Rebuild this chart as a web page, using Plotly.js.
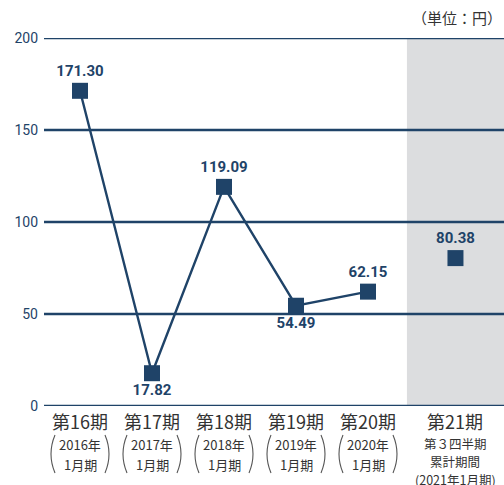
<!DOCTYPE html>
<html><head><meta charset="utf-8">
<script src="https://cdn.plot.ly/plotly-3.0.1.min.js"></script>
<style>body{margin:0;background:#fff}#c{width:504px;height:485px}</style>
</head><body><div id="c"></div>
<script>
const periods = ["第16期","第17期","第18期","第19期","第20期"];
const subYears = ["2016年","2017年","2018年","2019年","2020年"];
const subMonths = ["1月期","1月期","1月期","1月期","1月期"];
const values = [171.30, 17.82, 119.09, 54.49, 62.15];
const labelPos = ["top center","bottom center","top center","bottom center","top center"];
const lastPeriod = ["第21期"];
const lastSubLines = ["第３四半期","累計期間","(2021年1月期)"];
const lastValue = [80.38];
const yTicks = [0, 50, 100, 150, 200];
const unitText = "（単位：円）";

const navy = "#1f4368";
const condensed = "Roboto, sans-serif";
const numFont = {family: condensed, size: 15, color: navy, weight: "bold"};
const jpFont = "Noto Sans CJK JP, sans-serif";

const traces = [
  {x: periods, y: values, xaxis: "x", yaxis: "y", type: "scatter", mode: "lines+markers+text",
   line: {color: navy, width: 2.4}, marker: {symbol: "square", size: 16, color: navy},
   text: values.map(v => v.toFixed(2)), textposition: labelPos, textfont: numFont,
   cliponaxis: false, hoverinfo: "skip"},
  {x: lastPeriod, y: lastValue, xaxis: "x2", yaxis: "y", type: "scatter", mode: "markers+text",
   marker: {symbol: "square", size: 16, color: navy},
   text: lastValue.map(v => v.toFixed(2)), textposition: "top center", textfont: numFont,
   cliponaxis: false, hoverinfo: "skip"}
];

const shapes = [{type: "rect", xref: "x2 domain", yref: "paper", x0: 0, x1: 1, y0: 0, y1: 1,
  fillcolor: "#dcdddf", line: {width: 0}, layer: "below"}];
yTicks.forEach(t => shapes.push({type: "line", xref: "paper", yref: "y", x0: 0, x1: 1, y0: t, y1: t,
  line: {color: navy, width: 2.5}, layer: "below"}));
periods.forEach((p, i) => {
  ["M -25,-29 Q -33,-48 -25,-67", "M 25,-29 Q 33,-48 25,-67"].forEach(path => shapes.push({
    type: "path", xref: "x", yref: "paper", xsizemode: "pixel", ysizemode: "pixel",
    xanchor: i, yanchor: 0, path: path, line: {color: "#555", width: 1.1}, layer: "above"}));
});

const annotations = [];
function lab(xref, x, txt, shift, size) {
  annotations.push({xref: xref, yref: "paper", x: x, y: 0, yanchor: "top", yshift: shift, showarrow: false,
    borderpad: 0, text: txt, font: {family: jpFont, size: size, color: "#333"}});
}
periods.forEach((p, i) => {
  lab("x", p, p, -1, 18);
  lab("x", p, subYears[i], -28, 13);
  lab("x", p, subMonths[i], -48, 13);
});
lab("x2", lastPeriod[0], lastPeriod[0], -1, 18);
lastSubLines.forEach((t, k) => lab("x2", lastPeriod[0], t, -27 - 18 * k, 12.5));
annotations.push({xref: "paper", yref: "paper", x: 1, y: 1, xanchor: "right", yanchor: "bottom", yshift: 8, showarrow: false,
  text: unitText, font: {family: jpFont, size: 15, color: "#333"}});

const layout = {
  width: 504, height: 485, margin: {l: 44, r: 0, t: 38, b: 79},
  paper_bgcolor: "#fff", plot_bgcolor: "rgba(0,0,0,0)", showlegend: false,
  xaxis: {domain: [0, 0.7826], range: [-0.5, 4.5], autorange: false, showgrid: false, zeroline: false, showticklabels: false, ticks: "", showline: false},
  xaxis2: {domain: [0.789, 1], range: [-0.5, 0.5], autorange: false, showgrid: false, zeroline: false, showticklabels: false, ticks: "", showline: false, anchor: "y"},
  yaxis: {range: [0, 200], tickvals: yTicks, showgrid: false, zeroline: false, showline: false,
    ticks: "", ticklabelstandoff: 5,
    tickfont: {family: condensed, size: 14, color: navy}},
  shapes: shapes, annotations: annotations
};
Plotly.newPlot("c", traces, layout, {staticPlot: true});
</script></body></html>
